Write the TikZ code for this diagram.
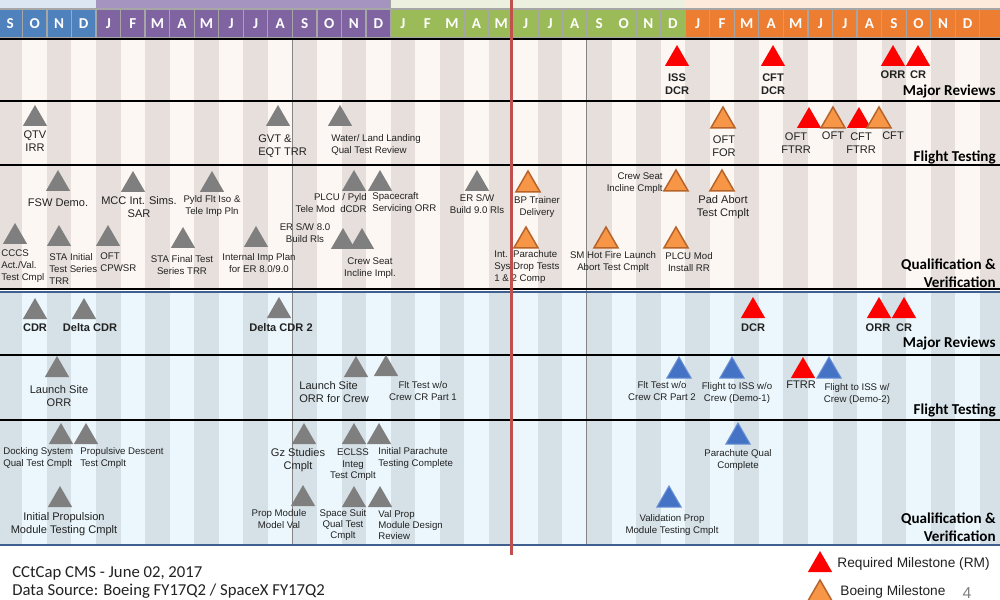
\documentclass[tikz,border=0pt]{standalone}
\usepackage{fontspec}
\setmainfont{Liberation Sans}
\newfontfamily\calib{Carlito}
\usetikzlibrary{shapes.geometric}
\definecolor{hblue}{HTML}{4F81BD}
\definecolor{hpurple}{HTML}{8064A2}
\definecolor{hgreen}{HTML}{9BBB59}
\definecolor{horange}{HTML}{ED7D31}
\definecolor{tblue}{HTML}{DCE6F2}
\definecolor{tpurple}{HTML}{A593C0}
\definecolor{tgreen}{HTML}{EBF1DE}
\definecolor{torange}{HTML}{FDEADA}
\definecolor{hgrid}{HTML}{A6A6A6}
\definecolor{bdark}{HTML}{E6DFDB}
\definecolor{blight}{HTML}{FDF7F3}
\definecolor{sdark}{HTML}{D5E1E7}
\definecolor{slight}{HTML}{EBF7FC}
\definecolor{msgray}{HTML}{7F7F7F}
\definecolor{msred}{HTML}{FF0000}
\definecolor{msorange}{HTML}{F79646}
\definecolor{msorangedk}{HTML}{B7642A}
\definecolor{msblue}{HTML}{4472C4}
\definecolor{msbluelt}{HTML}{6A90D6}
\definecolor{sxline}{HTML}{3F5F8F}
\definecolor{todayred}{HTML}{C0504D}
\definecolor{lbltext}{HTML}{222222}
\tikzset{
  ms/.style={regular polygon,regular polygon sides=3,minimum size=5.6mm,inner sep=0pt,outer sep=0pt},
  msg/.style={ms,fill=msgray},
  msr/.style={ms,fill=msred},
  mso/.style={ms,fill=msorange,draw=msorangedk,line width=0.3mm},
  msb/.style={ms,fill=msblue,draw=msbluelt,line width=0.2mm},
  lbl/.style={font=\fontsize{5.5}{6.8}\selectfont,align=center,inner sep=0pt,text=lbltext},
  lblb/.style={lbl,font=\fontsize{6.3}{7.6}\selectfont},
  lbls/.style={lbl,font=\fontsize{5.5}{6.5}\selectfont},
  lblbold/.style={lbl,font=\fontsize{6.3}{7.2}\selectfont\bfseries},
  sect/.style={font=\calib\fontsize{8.6}{10.2}\selectfont\bfseries,align=right,anchor=east,inner sep=0pt},
  mon/.style={font=\calib\fontsize{8.6}{9}\selectfont\bfseries,text=white,inner sep=0pt}
}
\begin{document}
\begin{tikzpicture}[x=0.2mm,y=-0.2mm]
\useasboundingbox (0,0) rectangle (1000,600);
\clip (0,0) rectangle (1000,600);
\fill[white] (0,0) rectangle (1000,600);
\fill[tblue] (0,0) rectangle (96,9);
\fill[tpurple] (96,0) rectangle (390.6,9);
\filldraw[fill=tgreen,draw=hgrid,line width=0.2mm] (390.6,0) rectangle (685.2,9);
\fill[torange] (685.2,0) rectangle (1000,9);
\foreach \k in {0,...,40}{
  \pgfmathsetmacro\xl{96+24.55*(\k-4)}
  \ifodd\k \def\ca{blight}\def\cb{slight}\else\def\ca{bdark}\def\cb{sdark}\fi
  \fill[\ca] (\xl,39) rectangle +(24.55,250);
  \fill[\cb] (\xl,292) rectangle +(24.55,253);
}
\foreach \m [count=\k from 0] in {S,O,N,D,J,F,M,A,M,J,J,A,S,O,N,D,J,F,M,A,M,J,J,A,S,O,N,D,J,F,M,A,M,J,J,A,S,O,N,D}{
  \pgfmathsetmacro\xl{96+24.55*(\k-4)}
  \ifnum\k<4 \def\hc{hblue}\else\ifnum\k<16 \def\hc{hpurple}\else\ifnum\k<28 \def\hc{hgreen}\else\def\hc{horange}\fi\fi\fi
  \filldraw[fill=\hc,draw=hgrid,line width=0.25mm] (\xl,9) rectangle +(24.55,29);
  \node[mon] (m\k) at (\xl+12.3,24) {\m};
}
\filldraw[fill=horange,draw=hgrid,line width=0.25mm] (979.8,9) rectangle (1004,38);
\draw[hgrid!80!black,line width=0.2mm] (292.2,39) -- (292.2,545) (586.8,39) -- (586.8,545);
\draw[line width=0.45mm] (0,39) -- (1000,39) (0,101) -- (1000,101) (0,165) -- (1000,165) (0,289) -- (1000,289);
\draw[line width=0.45mm] (0,355) -- (1000,355) (0,420) -- (1000,420);
\draw[sxline,line width=0.4mm] (0,292) -- (1000,292) (0,545) -- (1000,545);

\node[msr] (bmr1) at (677,59) {};
\node[msr] (bmr2) at (773,59) {};
\node[msr] (bmr3) at (893,59) {};
\node[msr] (bmr4) at (918,59) {};
\node[lblbold] (lbmr1) at (677,84) {ISS\\DCR};
\node[lblbold] (lbmr2) at (773,84) {CFT\\DCR};
\node[lblbold] (lbmr3) at (893,75) {ORR};
\node[lblbold] (lbmr4) at (918,75) {CR};
\node[sect] (tbmr) at (996,91) {Major Reviews};

\node[msg] (bft1) at (35,119) {};
\node[msg] (bft2) at (278,119) {};
\node[msg] (bft3) at (340,119) {};
\node[mso] (bft4) at (723,121) {};
\node[msr] (bft5) at (809,121) {};
\node[mso] (bft6) at (833,121) {};
\node[msr] (bft7) at (859,121) {};
\node[mso] (bft8) at (879,121) {};
\node[lblb] (lbft1) at (35,141) {QTV\\IRR};
\node[lblb,align=left,anchor=west] (lbft2) at (258,146) {GVT \&\\EQT TRR};
\node[lbls,align=left,anchor=west] (lbft3) at (331,145) {Water/ Land Landing\\Qual Test Review};
\node[lblb] (lbft4) at (724,146) {OFT\\FOR};
\node[lblb] (lbft5) at (796,143) {OFT\\FTRR};
\node[lblb] (lbft6) at (833,136) {OFT};
\node[lblb] (lbft7) at (861,143) {CFT\\FTRR};
\node[lblb] (lbft8) at (893,136) {CFT};
\node[sect] (tbft) at (996,157) {Flight Testing};

\node[msg] (bqv1) at (58,184) {};
\node[msg] (bqv2) at (133,185) {};
\node[msg] (bqv3) at (212,185) {};
\node[msg] (bqv4) at (354,184) {};
\node[msg] (bqv5) at (380,184) {};
\node[msg] (bqv6) at (477,184) {};
\node[mso] (bqv7) at (528,185) {};
\node[mso] (bqv8) at (676,184) {};
\node[mso] (bqv9) at (722,184) {};
\node[msg] (bqv10) at (15,237) {};
\node[msg] (bqv11) at (59,239) {};
\node[msg] (bqv12) at (108,239) {};
\node[msg] (bqv13) at (183,241) {};
\node[msg] (bqv14) at (256,240) {};
\node[msg] (bqv15) at (343,242) {};
\node[msg] (bqv16) at (362,242) {};
\node[mso] (bqv17) at (526,241) {};
\node[mso] (bqv18) at (606,241) {};
\node[mso] (bqv19) at (676,241) {};
\node[lblb] (lbqv1) at (58,203) {FSW Demo.};
\node[lblb] (lbqv2) at (139,207) {MCC Int. Sims.\\SAR};
\node[lbl] (lbqv3) at (212,206) {Pyld Flt Iso \&\\Tele Imp Pln};
\node[lbls,align=right,anchor=east] (lbqv4) at (367,203) {PLCU / Pyld\\Tele Mod\ \ dCDR};
\node[lbl,align=left,anchor=west] (lbqv5) at (372,203) {Spacecraft\\Servicing ORR};
\node[lbl] (lbqv6) at (477,204) {ER S/W\\Build 9.0 Rls};
\node[lbl] (lbqv7) at (537,207) {BP Trainer\\Delivery};
\node[lbl,align=right,anchor=east] (lbqv8) at (663,183) {Crew Seat\\Incline Cmplt};
\node[lblb] (lbqv9) at (723,207) {Pad Abort\\Test Cmplt};
\node[lbl,align=left,anchor=west] (lbqv10) at (1,266) {CCCS\\Act./Val.\\Test Cmpl};
\node[lbl,align=left,anchor=west] (lbqv11) at (49,269) {STA Initial\\Test Series\\TRR};
\node[lbl,align=left,anchor=west] (lbqv12) at (100,262) {OFT\\CPWSR};
\node[lbl] (lbqv13) at (182,265) {STA Final Test\\Series TRR};
\node[lbl] (lbqv14) at (259,263) {Internal Imp Plan\\for ER 8.0/9.0};
\node[lbl] (lbqv15) at (305,233) {ER S/W 8.0\\Build Rls};
\node[lbl] (lbqv16) at (370,268) {Crew Seat\\Incline Impl.};
\node[lbl,align=left,anchor=west] (lbqv17) at (494,267) {Int.\ \ Parachute\\Sys Drop Tests\\1 \& 2 Comp};
\node[lbl] (lbqv18) at (613,262) {SM Hot Fire Launch\\Abort Test Cmplt};
\node[lbl] (lbqv19) at (689,262) {PLCU Mod\\Install RR};
\node[sect] (tbqv) at (996,273) {Qualification \&\\Verification};

\node[msg] (smr1) at (35,312) {};
\node[msg] (smr2) at (84,312) {};
\node[msg] (smr3) at (279,311) {};
\node[msr] (smr4) at (753,311) {};
\node[msr] (smr5) at (879,311) {};
\node[msr] (smr6) at (904,311) {};
\node[lblbold] (lsmr1) at (35,328) {CDR};
\node[lblbold] (lsmr2) at (90,328) {Delta CDR};
\node[lblbold] (lsmr3) at (281,328) {Delta CDR 2};
\node[lblbold] (lsmr4) at (753,328) {DCR};
\node[lblbold] (lsmr5) at (878,328) {ORR};
\node[lblbold] (lsmr6) at (904,328) {CR};
\node[sect] (tsmr) at (996,343) {Major Reviews};

\node[msg] (sft1) at (57,370) {};
\node[msg] (sft2) at (356,370) {};
\node[msg] (sft3) at (386,369) {};
\node[msb] (sft4) at (679,371) {};
\node[msb] (sft5) at (732,371) {};
\node[msr] (sft6) at (803,371) {};
\node[msb] (sft7) at (829,371) {};
\node[lblb] (lsft1) at (59,396) {Launch Site\\ORR};
\node[lblb,align=left,anchor=west] (lsft2) at (299,392) {Launch Site\\ORR for Crew};
\node[lbls] (lsft3) at (423,391) {Flt Test w/o\\Crew CR Part 1};
\node[lbls] (lsft4) at (662,391) {Flt Test w/o\\Crew CR Part 2};
\node[lbls] (lsft5) at (737,393) {Flight to ISS w/o\\Crew (Demo-1)};
\node[lblb] (lsft6) at (801,385) {FTRR};
\node[lbls] (lsft7) at (857,394) {Flight to ISS w/\\Crew (Demo-2)};
\node[sect] (tsft) at (996,410) {Flight Testing};

\node[msg] (sqv1) at (61,437) {};
\node[msg] (sqv2) at (86,437) {};
\node[msg] (sqv3) at (304,437) {};
\node[msg] (sqv4) at (354,437) {};
\node[msg] (sqv5) at (379,437) {};
\node[msb] (sqv6) at (738,437) {};
\node[msg] (sqv7) at (60,500) {};
\node[msg] (sqv8) at (303,499) {};
\node[msg] (sqv9) at (354,500) {};
\node[msg] (sqv10) at (380,500) {};
\node[msb] (sqv11) at (669,500) {};
\node[lbls,align=left,anchor=west] (lsqv1) at (3,458) {Docking System\\Qual Test Cmplt};
\node[lbls,align=left,anchor=west] (lsqv2) at (80,458) {Propulsive Descent\\Test Cmplt};
\node[lblb] (lsqv3) at (298,460) {Gz Studies\\Cmplt};
\node[lbls] (lsqv4) at (353,465) {ECLSS\\Integ\\Test Cmplt};
\node[lbls,align=left,anchor=west] (lsqv5) at (378,458) {Initial Parachute\\Testing Complete};
\node[lbls] (lsqv6) at (738,460) {Parachute Qual\\Complete};
\node[lblb] (lsqv7) at (64,524) {Initial Propulsion\\Module Testing Cmplt};
\node[lbls] (lsqv8) at (279,519) {Prop Module\\Model Val};
\node[lbls] (lsqv9) at (343,525) {Space Suit\\Qual Test\\Cmplt};
\node[lbls,align=left,anchor=west] (lsqv10) at (378,525) {Val Prop\\Module Design\\Review};
\node[lbls] (lsqv11) at (672,525) {Validation Prop\\Module Testing Cmplt};
\node[sect] (tsqv) at (996,527) {Qualification \&\\Verification};

\node[msr] (leg1) at (820,565) {};
\node[lbl,font=\fontsize{7.8}{9}\selectfont,anchor=west] (lleg1) at (837,564) {Required Milestone (RM)};
\node[mso] (leg2) at (820,594) {};
\node[lbl,font=\fontsize{7.8}{9}\selectfont,anchor=west] (lleg2) at (840,592) {Boeing Milestone};
\node[font=\fontsize{9}{10}\selectfont,text=gray,inner sep=0pt] (pg) at (967,593) {4};
\node[font=\calib\fontsize{9.5}{10}\selectfont,text=lbltext,anchor=west,inner sep=0pt] (foot1) at (12,573) {CCtCap CMS - June 02, 2017};
\node[font=\calib\fontsize{9.5}{10}\selectfont,text=lbltext,anchor=west,inner sep=0pt] (foot2) at (12,591) {Data Source: Boeing FY17Q2 / SpaceX FY17Q2};

\draw[todayred,line width=0.6mm] (511,0) -- (511,555);
\end{tikzpicture}
\end{document}
